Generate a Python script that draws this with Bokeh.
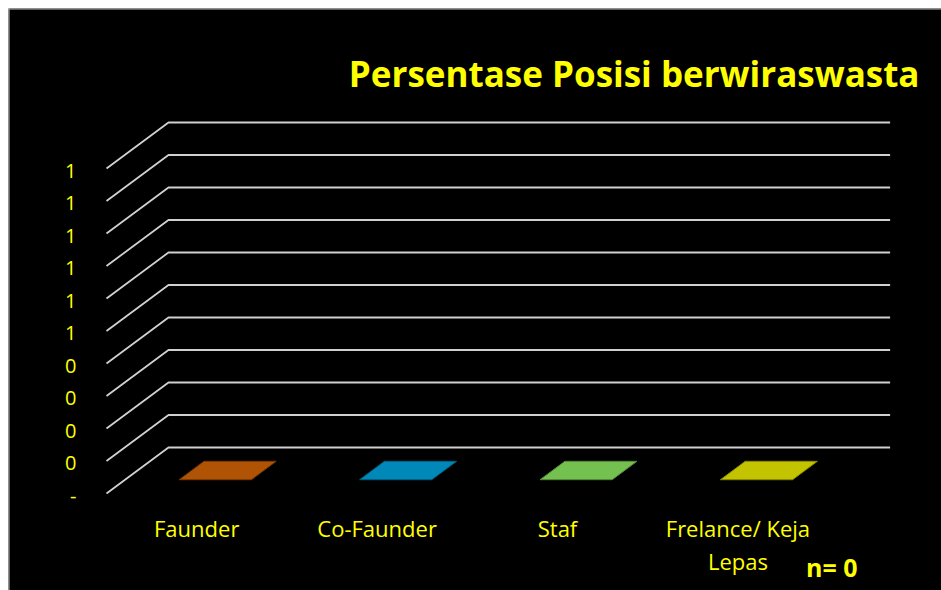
from bokeh.plotting import figure
from bokeh.models import Range1d, ColumnDataSource, Span
from bokeh.core.properties import value
from bokeh.embed import file_html
from bokeh.resources import INLINE

# ---------------- data ----------------
categories = ["Faunder", "Co-Faunder", "Staf", "Frelance/ Keja\nLepas"]
values = [0, 0, 0, 0]
bar_colors = ["#B05305", "#0088B9", "#75C150", "#C4C300"]
edge_colors = ["#7A3A03", "#005F82", "#52873A", "#898800"]
tick_values = [0.0, 0.1, 0.2, 0.3, 0.4, 0.5, 0.6, 0.7, 0.8, 0.9, 1.0]
tick_labels = ["-", "0", "0", "0", "0", "1", "1", "1", "1", "1", "1"]
title_text = "Persentase Posisi berwiraswasta"
n_text = "n= " + str(sum(values))

# ---------------- layout (canvas pixels) ----------------
W, H = 941, 590
MARGIN = 8                      # white page margin left/top
ORIGIN_X, ORIGIN_Y = 106, 493   # front-left corner of the floor (px, y down)
CAT_PX = 180.4                  # width of one category in px
UNIT_PX = 325.0                 # height of value 1.0 in px
DEPTH_X_PX, DEPTH_Y_PX = 62.0, 46.0

DX = DEPTH_X_PX / CAT_PX        # depth offset in data units
DY = DEPTH_Y_PX / UNIT_PX
F1, F2 = 0.30, 0.70             # bar front/back depth fractions
BAR_HALF = 0.20                 # half bar width (categories)


def px_x(cx):
    return (cx - ORIGIN_X) / CAT_PX


def px_y(cy):
    return (ORIGIN_Y - cy) / UNIT_PX


YELLOW = "#FFFF00"
FONT = "Open Sans"

p = figure(width=W, height=H, output_backend="svg", toolbar_location=None,
           x_range=Range1d(px_x(MARGIN), px_x(W)),
           y_range=Range1d(px_y(H), px_y(MARGIN)),
           x_axis_type=None, y_axis_type=None,
           min_border_left=MARGIN, min_border_right=0,
           min_border_top=MARGIN, min_border_bottom=0)
p.background_fill_color = "black"
p.border_fill_color = "white"
p.outline_line_color = None
p.grid.visible = False

# chart-area border (left / top edges)
p.add_layout(Span(location=px_x(MARGIN + 0.5), dimension="height",
                  line_color="#BFBFBF", line_width=1))
p.add_layout(Span(location=px_y(MARGIN + 0.5), dimension="width",
                  line_color="#BFBFBF", line_width=1))

# perspective gridlines
n_cat = len(categories)
gx = [[0, DX, n_cat + DX] for t in tick_values]
gy = [[t, t + DY, t + DY] for t in tick_values]
p.multi_line(gx, gy, line_color="#D0D0D0", line_width=1.8)

# value labels
p.text([px_x(76)] * len(tick_values), tick_values, text=tick_labels,
       text_align="right", text_baseline="middle", y_offset=2,
       text_color=YELLOW, text_font=value(FONT), text_font_size="20px")

# 3D bars
front_x, front_y, side_x, side_y, top_x, top_y = [], [], [], [], [], []
for i, v in enumerate(values):
    xl = i + 0.5 - BAR_HALF
    xr = i + 0.5 + BAR_HALF
    front_x.append([xl + F1 * DX, xr + F1 * DX, xr + F1 * DX, xl + F1 * DX])
    front_y.append([F1 * DY, F1 * DY, v + F1 * DY, v + F1 * DY])
    side_x.append([xr + F1 * DX, xr + F2 * DX, xr + F2 * DX, xr + F1 * DX])
    side_y.append([F1 * DY, F2 * DY, v + F2 * DY, v + F1 * DY])
    top_x.append([xl + F1 * DX, xr + F1 * DX, xr + F2 * DX, xl + F2 * DX])
    top_y.append([v + F1 * DY, v + F1 * DY, v + F2 * DY, v + F2 * DY])

p.patches(front_x, front_y, fill_color=edge_colors, line_color=None)
p.patches(side_x, side_y, fill_color=edge_colors, line_color=None)
p.patches(top_x, top_y, fill_color=bar_colors, line_color=edge_colors, line_width=1)

# category labels (multi-line split)
lx, ly, lt, lo = [], [], [], []
for i, c in enumerate(categories):
    for j, part in enumerate(c.split("\n")):
        lx.append(i + 0.5)
        ly.append(px_y(527.5))
        lt.append(part)
        lo.append(j * 33)
src = ColumnDataSource(dict(x=lx, y=ly, text=lt, yo=lo))
p.text("x", "y", text="text", y_offset="yo", source=src, text_align="center",
       text_baseline="middle", text_color=YELLOW, text_font=value(FONT),
       text_font_size="22px")

# title
p.text([px_x(919)], [px_y(72.5)], text=[title_text], text_align="right",
       text_baseline="middle", text_color=YELLOW, text_font=value(FONT),
       text_font_style="bold", text_font_size="35px")

# n label
p.text([px_x(857)], [px_y(566.5)], text=[n_text], text_align="right",
       text_baseline="middle", text_color=YELLOW, text_font=value(FONT),
       text_font_style="bold", text_font_size="25px")

open("out.html", "w").write(file_html(p, INLINE))
